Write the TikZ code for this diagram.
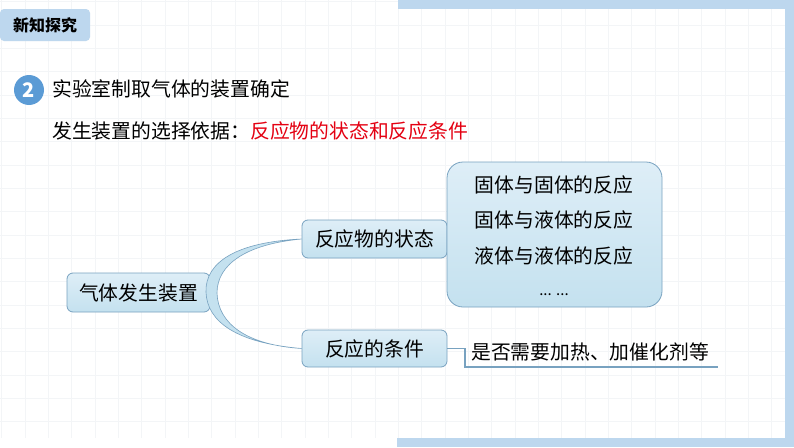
\documentclass[tikz,border=0pt]{standalone}
\usepackage{fontspec}
\setmainfont{Noto Sans CJK SC}
\definecolor{bandc}{RGB}{189,215,238}
\definecolor{numc}{RGB}{91,155,213}
\definecolor{gridc}{RGB}{243,245,247}
\definecolor{nodetop}{RGB}{222,238,247}
\definecolor{nodebot}{RGB}{196,225,239}
\definecolor{edgec}{RGB}{120,162,192}
\definecolor{redc}{RGB}{228,0,18}
\begin{document}
\begin{tikzpicture}[x=1pt,y=-1pt,
  txt/.style={font=\fontsize{19.8}{22}\selectfont, inner sep=0pt},
  mapbox/.style={draw=edgec, line width=0.8pt, rounded corners=6pt, top color=nodetop, bottom color=nodebot,
    font=\fontsize{19.8}{22}\selectfont, inner sep=0pt},
  conn/.style={draw=edgec, line width=1.1pt}]
\useasboundingbox (0,0) rectangle (794,447);
\fill[white] (0,0) rectangle (794,447);
% faint grid
\foreach \i in {0,...,33} { \draw[gridc, line width=0.5pt] ({1.7+\i*23.33},0) -- ({1.7+\i*23.33},438); }
\foreach \j in {0,...,18} { \draw[gridc, line width=0.5pt] (0,{1.7+\j*23.33}) -- (785,{1.7+\j*23.33}); }
% frame bands
\fill[bandc] (398,0) rectangle (794,9);
\fill[bandc] (785,0) rectangle (794,447);
\fill[bandc] (397,438) rectangle (794,447);
% badge
\node[fill=bandc, rounded corners=4pt, minimum width=90pt, minimum height=32pt, inner sep=0pt,
  font=\fontsize{16}{18}\selectfont\bfseries] (badge) at (45,25) {新知探究};
% heading
\node[circle, fill=numc, minimum size=30pt, inner sep=0pt, text=white,
  font=\fontsize{20}{22}\selectfont\bfseries] (num) at (29,90) {2};
\node[txt, anchor=west] (h1) at (52,89) {实验室制取气体的装置确定};
\node[txt, anchor=west] (h2) at (52,131) {发生装置的选择依据：\textcolor{redc}{反应物的状态和反应条件}};
% mind map nodes
\node[mapbox, minimum width=143pt, minimum height=39pt] (root) at (138.5,292.5) {气体发生装置};
\node[mapbox, minimum width=145pt, minimum height=38pt] (state) at (374.5,239) {反应物的状态};
\node[mapbox, minimum width=145pt, minimum height=37pt] (cond) at (374.5,348.5) {反应的条件};
\node[mapbox, rounded corners=16pt, minimum width=215pt, minimum height=145pt] (big) at (554.5,234.5) {};
\node[txt] (l1) at (554,185) {固体与固体的反应};
\node[txt] (l2) at (554,220) {固体与液体的反应};
\node[txt] (l3) at (554,256) {液体与液体的反应};
\node[txt, font=\fontsize{15}{17}\selectfont] (l4) at (554,295) {... ...};
% crescent branches
\path[fill=nodebot, draw=edgec, line width=0.6pt]
  (state.west) .. controls (237,242) and (205,262) .. (206,292)
  .. controls (207,322) and (237,343) .. (cond.west)
  .. controls (247,345) and (218,324) .. (217,293)
  .. controls (217,264) and (247,244) .. (state.west) -- cycle;
% condition detail
\node[txt, anchor=south west] (detail) at (471,361) {是否需要加热、加催化剂等};
\coordinate (k1) at (465,348.5);
\coordinate (k2) at (465,367);
\coordinate (ulend) at (718,367);
\draw[conn] (cond.east) -- (k1) -- (k2) -- (ulend);
\end{tikzpicture}
\end{document}
